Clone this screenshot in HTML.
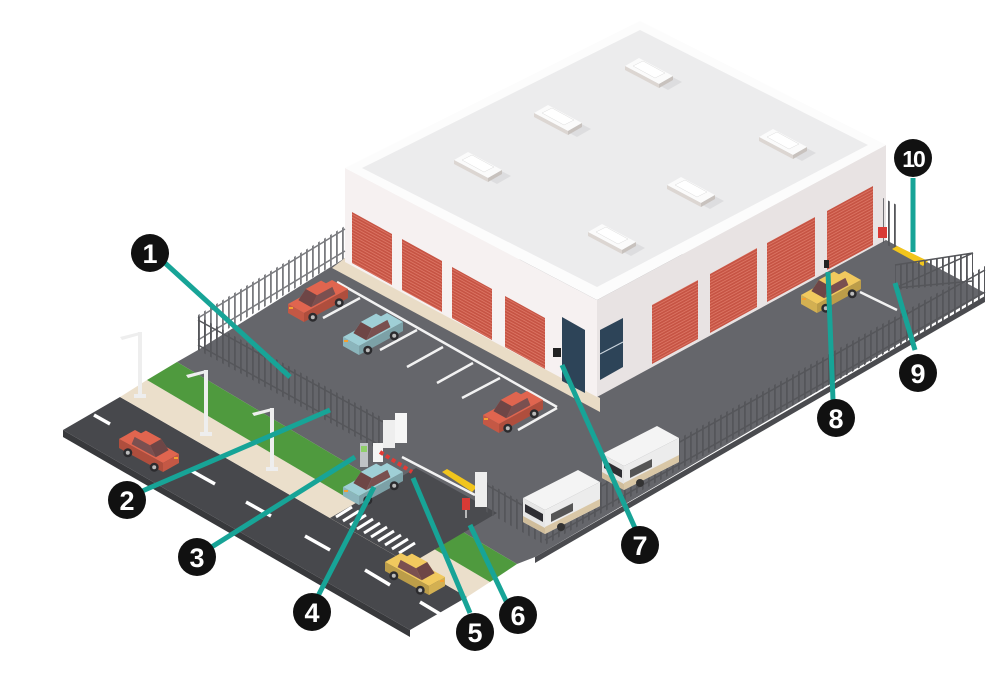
<!DOCTYPE html>
<html><head><meta charset="utf-8"><style>
html,body{margin:0;padding:0;background:#fff;}
svg{display:block;}
.n{font-family:"Liberation Sans",sans-serif;font-weight:bold;font-size:27px;fill:#fff;text-anchor:middle;}
</style></head><body>
<svg width="1000" height="700" viewBox="0 0 1000 700" xmlns="http://www.w3.org/2000/svg">
<defs>
<pattern id="pl" width="10" height="3" patternUnits="userSpaceOnUse" patternTransform="skewY(28.7)"><rect width="10" height="3" fill="#c65444"/><rect width="10" height="1" fill="#dc7564"/></pattern>
<pattern id="pr" width="10" height="3" patternUnits="userSpaceOnUse" patternTransform="skewY(-28.4)"><rect width="10" height="3" fill="#c65444"/><rect width="10" height="1" fill="#dc7564"/></pattern>
<pattern id="fb" width="6" height="10" patternUnits="userSpaceOnUse"><rect width="1.8" height="10" fill="#55565a"/></pattern>
<pattern id="fw" width="6" height="10" patternUnits="userSpaceOnUse"><rect width="1.8" height="10" fill="#7a7b7f"/></pattern>
<g id="car">
 <polygon points="-30,1 14,-23 30,-14 -14,10"/>
 <polygon points="-30,1 -14,10 -14,19 -30,10"/>
 <polygon points="-30,1 -14,10 -14,19 -30,10" fill="#000" opacity="0.12"/>
 <polygon points="-14,10 30,-14 30,-5 -14,19"/>
 <polygon points="-14,10 30,-14 30,-5 -14,19" fill="#000" opacity="0.22"/>
 <polygon points="-19.6,-2.9 4.6,-16.1 3.2,-22.4 -12.2,-14"/>
 <polygon points="-12.2,-14 3.2,-22.4 14.4,-16.1 -1,-7.7"/>
 <polygon points="-19.6,-2.9 -6.8,4.3 -1,-7.7 -12.2,-14" fill="#6e4646"/>
 <polygon points="-6.8,4.3 17.4,-8.9 14.4,-16.1 -1,-7.7" fill="#7a5050"/>
 <rect x="-29" y="4" width="4" height="2" fill="#f5a030"/>
 <circle cx="-5.2" cy="14.2" r="4.5" fill="#2b2b2e"/>
 <circle cx="21.2" cy="-0.2" r="4.5" fill="#2b2b2e"/>
 <circle cx="-5.2" cy="14.2" r="2" fill="#bbb"/>
 <circle cx="21.2" cy="-0.2" r="2" fill="#bbb"/>
</g>
<g id="rv">
 <polygon points="-38,4 17,-24 39,-12 -16,16" fill="#f4f4f4"/>
 <polygon points="-38,4 -16,16 -16,40 -38,28" fill="#e6e6e6"/>
 <polygon points="-16,16 39,-12 39,12 -16,40" fill="#ececec"/>
 <polygon points="-16,33 39,5 39,12 -16,40" fill="#d9c7a6"/>
 <polygon points="-38,22 -16,34 -16,40 -38,28" fill="#d0bd9b"/>
 <polygon points="-36,10 -18,20 -18,28 -36,18" fill="#2e2e33"/>
 <polygon points="-10,20 12,9 12,17 -10,28" fill="#555"/>
 <circle cx="0" cy="33" r="4" fill="#333"/>
</g>
<g id="vent">
 <polygon points="-26,-4 -12,-12 26,8 12,16" fill="#d4d4d6" opacity="0.6" transform="translate(5,4)"/>
 <polygon points="-26,-4 -12,-12 22,6 8,14" fill="#fbfbfb"/>
 <polygon points="-26,-4 8,14 8,18 -26,0" fill="#dcd6d2"/>
 <polygon points="8,14 22,6 22,10 8,18" fill="#c8c2be"/>
 <polygon points="-18,-4 -8,-9 14,3 4,8" fill="#ffffff" stroke="#ddd" stroke-width="0.5"/>
</g>
</defs>

<!-- ground thickness -->
<polygon points="63,430 410,630 410,637 63,437" fill="#38393c"/>
<polygon points="535,557 985,296 985,302 535,563" fill="#4a4b4f"/>
<!-- lot asphalt -->
<polygon points="177,362 198,350 345,258 600,260 886,240 985,293 535,557 517,564" fill="#65666b"/>
<!-- road -->
<polygon points="63,430 120,397 467,597 410,630" fill="#47484c"/>
<!-- sidewalk -->
<polygon points="120,397 147,380 490,582 467,597" fill="#ebdfcb"/>
<!-- grass -->
<polygon points="147,380 177,362 517,564 490,582" fill="#4f9a3e"/>
<!-- drive -->
<polygon points="330,518 410,564 497,513 416,468" fill="#4a4b4f"/>
<g stroke="#fff" stroke-width="3">
<line x1="336" y1="517" x2="352" y2="507"/><line x1="343" y1="521" x2="359" y2="511"/><line x1="350" y1="525" x2="366" y2="515"/><line x1="357" y1="529" x2="373" y2="519"/><line x1="364" y1="533" x2="380" y2="523"/><line x1="371" y1="537" x2="387" y2="527"/><line x1="378" y1="541" x2="394" y2="531"/><line x1="385" y1="545" x2="401" y2="535"/><line x1="392" y1="549" x2="408" y2="539"/><line x1="399" y1="553" x2="415" y2="543"/>
</g>
<!-- road dashes -->
<g stroke="#fff" stroke-width="3.5">
<line x1="94" y1="415" x2="110" y2="424"/><line x1="190" y1="470" x2="215" y2="484"/><line x1="246" y1="502" x2="271" y2="516"/><line x1="305" y1="536" x2="330" y2="550"/><line x1="365" y1="570" x2="390" y2="585"/><line x1="420" y1="602" x2="440" y2="614"/>
</g>
<!-- building sidewalk -->
<polygon points="345,258 600,398 600,412 332,268" fill="#e9dcc6"/>
<!-- parking lines -->
<g stroke="#f2f2f2" stroke-width="2.5" fill="none">
<line x1="337" y1="282" x2="557" y2="407"/>
<line x1="360" y1="298" x2="323" y2="318"/><line x1="417" y1="330" x2="380" y2="350"/>
<line x1="443" y1="347" x2="407" y2="367"/><line x1="473" y1="363" x2="437" y2="383"/><line x1="500" y1="378" x2="462" y2="398"/>
<line x1="557" y1="408" x2="518" y2="430"/>
<line x1="402" y1="457" x2="475" y2="495"/>
<line x1="860" y1="292" x2="897" y2="310"/>
</g>

<!-- building -->
<polygon points="345,168 597,300 597,397 345,262" fill="#f6f1f1"/>
<polygon points="597,300 886,145 886,240 597,397" fill="#e8e3e3"/>
<polygon points="345,168 640,21 886,145 597,300" fill="#fcfcfc"/>
<polygon points="362,168 640,30 868,145 597,287" fill="#ececed"/>
<!-- left doors -->
<polygon points="352,212 392,234 392,285 352,263" fill="url(#pl)"/>
<polygon points="402,239 442,261 442,312 402,290" fill="url(#pl)"/>
<polygon points="452,267 492,289 492,340 452,318" fill="url(#pl)"/>
<polygon points="505,296 545,318 545,369 505,347" fill="url(#pl)"/>
<polygon points="562,317 585,330 585,393 562,381" fill="#2d4458"/>
<!-- right doors -->
<polygon points="652,305 698,280 698,339 652,364" fill="url(#pr)"/>
<polygon points="710,274 757,248 757,307 710,333" fill="url(#pr)"/>
<polygon points="767,243 815,217 815,276 767,302" fill="url(#pr)"/>
<polygon points="827,211 873,186 873,245 827,270" fill="url(#pr)"/>
<polygon points="600,330 623,318 623,367 600,380" fill="#2d4458"/>
<line x1="600" y1="354" x2="623" y2="342" stroke="#c9d3dc" stroke-width="1.2"/>
<rect x="553" y="348" width="8" height="9" fill="#222"/>
<!-- vents -->
<use href="#vent" x="651" y="70"/>
<use href="#vent" x="560" y="117"/>
<use href="#vent" x="480" y="164"/>
<use href="#vent" x="785" y="141"/>
<use href="#vent" x="693" y="189"/>
<use href="#vent" x="614" y="236"/>

<!-- fences -->
<polygon points="198,347 345,258 345,226 198,315" fill="url(#fw)"/>
<g stroke="#7a7b7f" stroke-width="1.5"><line x1="198" y1="318" x2="345" y2="229"/><line x1="198" y1="340" x2="345" y2="251"/></g>
<polygon points="198,350 383,452 383,418 198,316" fill="url(#fb)"/>
<g stroke="#55565a" stroke-width="1.5"><line x1="198" y1="320" x2="383" y2="422"/><line x1="198" y1="345" x2="383" y2="447"/></g>
<!-- gate equipment -->
<rect x="383" y="420" width="12" height="28" fill="#eeeeee"/>
<rect x="395" y="413" width="12" height="30" fill="#f6f6f6"/>
<rect x="360" y="443" width="8" height="24" fill="#bfc3c6"/>
<rect x="361" y="446" width="6" height="6" fill="#8fd06a"/>
<rect x="373" y="443" width="10" height="19" fill="#f4f4f4"/>
<line x1="380" y1="452" x2="412" y2="472" stroke="#e23a35" stroke-width="4" stroke-dasharray="4,3"/>
<polygon points="442,472 447,469 477,487 472,492" fill="#f2c51c"/>
<polygon points="483,480 545,515 545,545 483,510" fill="url(#fb)"/>
<polygon points="545,545 985,297 985,266 545,514" fill="url(#fb)"/>
<g stroke="#55565a" stroke-width="1.5"><line x1="483" y1="483" x2="545" y2="518"/><line x1="545" y1="518" x2="985" y2="270"/><line x1="545" y1="540" x2="985" y2="292"/></g>
<rect x="475" y="472" width="12" height="35" fill="#eeeeee"/>
<rect x="462" y="498" width="8" height="12" fill="#d93a35"/>
<line x1="466" y1="510" x2="466" y2="518" stroke="#ddd" stroke-width="1.5"/>
<!-- right end -->
<polygon points="883,243 897,250 897,205 883,198" fill="url(#fb)"/>
<rect x="878" y="227" width="9" height="11" fill="#d93a35"/>
<polygon points="892,249 897,246 928,261 923,266" fill="#f2c51c"/>
<polygon points="895,290 973,283 973,253 895,265" fill="url(#fb)"/>
<g stroke="#55565a" stroke-width="1.5"><line x1="895" y1="265" x2="973" y2="253"/><line x1="895" y1="288" x2="973" y2="281"/><line x1="895" y1="288" x2="973" y2="253"/></g>
<rect x="824" y="260" width="5" height="8" fill="#222"/>

<!-- lamps -->
<g fill="#eeeeee">
<rect x="138" y="332" width="4" height="65"/><polygon points="120,337 140,332 140,335 122,340"/><rect x="134" y="394" width="12" height="4"/>
<rect x="204" y="370" width="4" height="65"/><polygon points="186,375 206,370 206,373 188,378"/><rect x="200" y="432" width="12" height="4"/>
<rect x="270" y="408" width="4" height="62"/><polygon points="252,413 272,408 272,411 254,416"/><rect x="266" y="467" width="12" height="4"/>
</g>

<!-- cars -->
<use href="#car" x="318" y="303" fill="#e0654f"/>
<use href="#car" x="373" y="336" fill="#9fcfd6"/>
<use href="#car" x="513" y="414" fill="#e0654f"/>
<use href="#car" x="373" y="486" fill="#9fcfd6"/>
<use href="#car" x="831" y="294" fill="#f1c95e"/>
<g transform="translate(149,453) scale(-1,1)"><use href="#car" fill="#e0654f"/></g>
<g transform="translate(415,576) scale(-1,1)"><use href="#car" fill="#f1c95e"/></g>
<use href="#rv" x="561" y="494"/>
<use href="#rv" x="640" y="450"/>

<!-- leader lines -->
<g stroke="#17a497" stroke-width="5" stroke-linecap="butt">
<line x1="165" y1="263" x2="290" y2="377"/>
<line x1="140" y1="492" x2="330" y2="410"/>
<line x1="210" y1="548" x2="355" y2="457"/>
<line x1="318" y1="596" x2="374" y2="487"/>
<line x1="470" y1="613" x2="413" y2="478"/>
<line x1="507" y1="603" x2="470" y2="525"/>
<line x1="562" y1="365" x2="635" y2="528"/>
<line x1="828" y1="272" x2="833" y2="400"/>
<line x1="895" y1="283" x2="915" y2="350"/>
<line x1="913" y1="178" x2="913" y2="252"/>
</g>
<!-- markers -->
<g fill="#111">
<circle cx="150" cy="253" r="19"/><circle cx="127" cy="500" r="19"/><circle cx="197" cy="557" r="19"/>
<circle cx="312" cy="612" r="19"/><circle cx="475" cy="632" r="19"/><circle cx="518" cy="615" r="19"/>
<circle cx="640" cy="545" r="19"/><circle cx="836" cy="418" r="19"/><circle cx="918" cy="373" r="19"/>
<circle cx="913" cy="158" r="19"/>
</g>
<text class="n" x="150" y="263">1</text>
<text class="n" x="127" y="510">2</text>
<text class="n" x="197" y="567">3</text>
<text class="n" x="312" y="622">4</text>
<text class="n" x="475" y="642">5</text>
<text class="n" x="518" y="625">6</text>
<text class="n" x="640" y="555">7</text>
<text class="n" x="836" y="428">8</text>
<text class="n" x="918" y="383">9</text>
<text class="n" x="913" y="167" style="font-size:23px;letter-spacing:-2px">10</text>
</svg>
</body></html>
